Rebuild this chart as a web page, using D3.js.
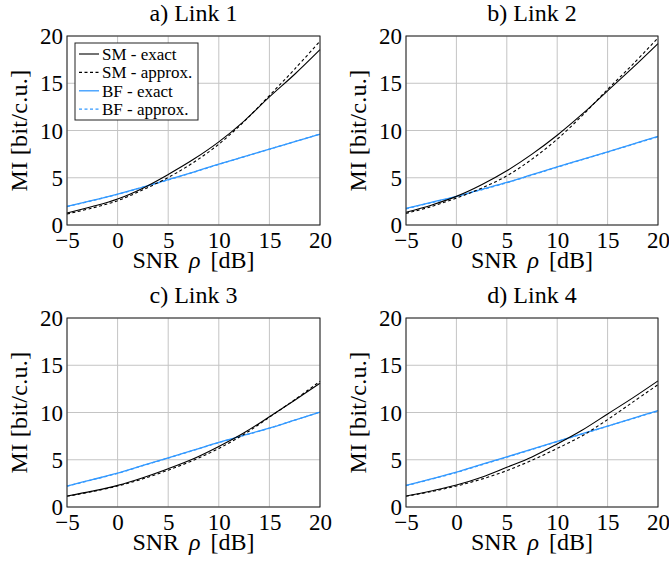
<!DOCTYPE html>
<html>
<head>
<meta charset="utf-8">
<script src="https://cdn.jsdelivr.net/npm/d3@7"></script>
<style>
html,body{margin:0;padding:0;background:#fff;}
svg{display:block;}
</style>
</head>
<body>
<svg id="chart" width="669" height="562"></svg>
<script>
// ---- data ----
const snr = [-5, -2.5, 0, 2.5, 5, 7.5, 10, 12.5, 15, 17.5, 20];
const xTicks = [-5, 0, 5, 10, 15, 20];
const yTicks = [0, 5, 10, 15, 20];
const panelTitles = ["a) Link 1", "b) Link 2", "c) Link 3", "d) Link 4"];
const seriesNames = ["SM - exact", "SM - approx.", "BF - exact", "BF - approx."];
const xLabelParts = ["SNR", "\u03C1", "[dB]"];
const yLabel = "MI [bit/c.u.]";

const link1SmExact  = [1.27, 1.95, 2.75, 3.9, 5.35, 6.95, 8.8, 11.0, 13.55, 15.95, 18.55];
const link1SmApprox = [1.16, 1.8, 2.57, 3.72, 5.03, 6.62, 8.55, 10.95, 13.7, 16.5, 19.45];
const link1BfExact  = [1.97, 2.6, 3.27, 4.02, 4.79, 5.6, 6.44, 7.23, 8.03, 8.82, 9.61];
const link1BfApprox = [1.95, 2.58, 3.25, 4.0, 4.77, 5.58, 6.42, 7.22, 8.02, 8.82, 9.62];

const link2SmExact  = [1.34, 2.1, 3.03, 4.26, 5.74, 7.5, 9.5, 11.75, 14.2, 16.65, 19.2];
const link2SmApprox = [1.23, 1.95, 2.85, 3.9, 5.2, 6.97, 9.08, 11.6, 14.35, 17.0, 19.8];
const link2BfExact  = [1.76, 2.4, 3.03, 3.77, 4.5, 5.33, 6.16, 6.95, 7.75, 8.56, 9.37];
const link2BfApprox = [1.72, 2.36, 3.0, 3.73, 4.47, 5.29, 6.12, 6.92, 7.72, 8.53, 9.34];

const link3SmExact  = [1.16, 1.68, 2.29, 3.1, 4.05, 5.1, 6.4, 7.85, 9.55, 11.3, 13.1];
const link3SmApprox = [1.13, 1.63, 2.22, 2.98, 3.9, 4.95, 6.2, 7.7, 9.5, 11.35, 13.3];
const link3BfExact  = [2.22, 2.9, 3.58, 4.4, 5.2, 6.02, 6.84, 7.6, 8.35, 9.2, 10.05];
const link3BfApprox = [2.2, 2.88, 3.56, 4.38, 5.18, 6.0, 6.82, 7.58, 8.34, 9.19, 10.04];

const link4SmExact  = [1.16, 1.7, 2.32, 3.15, 4.2, 5.3, 6.67, 8.15, 9.85, 11.55, 13.35];
const link4SmApprox = [1.13, 1.63, 2.22, 2.95, 3.85, 4.95, 6.2, 7.55, 9.25, 11.1, 12.95];
const link4BfExact  = [2.29, 2.97, 3.68, 4.5, 5.3, 6.12, 6.95, 7.76, 8.57, 9.38, 10.19];
const link4BfApprox = [2.26, 2.94, 3.65, 4.47, 5.27, 6.09, 6.92, 7.73, 8.55, 9.36, 10.17];

const links = [
  [link1SmExact, link1SmApprox, link1BfExact, link1BfApprox],
  [link2SmExact, link2SmApprox, link2BfExact, link2BfApprox],
  [link3SmExact, link3SmApprox, link3BfExact, link3BfApprox],
  [link4SmExact, link4SmApprox, link4BfExact, link4BfApprox]
];

// ---- styles ----
const FONT = "'Liberation Serif', 'Tinos', 'Times New Roman', Times, 'DejaVu Serif', serif";
const BLUE = "#3399ff";
const seriesStyle = [
  {color: "#000", dash: null, width: 1.1},
  {color: "#000", dash: "3,2.5", width: 1.1},
  {color: BLUE, dash: null, width: 1.3},
  {color: BLUE, dash: "3,2.5", width: 1.3}
];

const panels = [
  {left: 67, top: 36, w: 253, h: 189},
  {left: 406, top: 36, w: 252, h: 189},
  {left: 67, top: 318, w: 253, h: 189},
  {left: 406, top: 318, w: 252, h: 189}
];

const svg = d3.select("#chart");

panels.forEach((p, i) => {
  const g = svg.append("g").attr("transform", `translate(${p.left},${p.top})`);
  const x = d3.scaleLinear().domain([-5, 20]).range([0, p.w]);
  const y = d3.scaleLinear().domain([0, 20]).range([p.h, 0]);

  // grid
  g.append("g").selectAll("line").data(xTicks).join("line")
    .attr("x1", d => x(d)).attr("x2", d => x(d)).attr("y1", 0).attr("y2", p.h)
    .attr("stroke", "#c4c4c4").attr("stroke-width", 1);
  g.append("g").selectAll("line").data(yTicks).join("line")
    .attr("x1", 0).attr("x2", p.w).attr("y1", d => y(d)).attr("y2", d => y(d))
    .attr("stroke", "#c4c4c4").attr("stroke-width", 1);

  // axes via d3 (labels only)
  const fmt = d => (d < 0 ? "\u2212" + Math.abs(d) : String(d));
  const xAxis = g.append("g").attr("transform", `translate(0,${p.h})`)
    .call(d3.axisBottom(x).tickValues(xTicks).tickFormat(fmt).tickSize(0).tickPadding(7));
  const yAxis = g.append("g")
    .call(d3.axisLeft(y).tickValues(yTicks).tickFormat(fmt).tickSize(0).tickPadding(4));
  [xAxis, yAxis].forEach(a => {
    a.attr("font-family", null).attr("font-size", null);
    a.select(".domain").remove();
    a.selectAll("text").style("font-size", "23px").style("font-family", FONT).attr("fill", "#000");
  });
  xAxis.selectAll("text").attr("dy", "0.68em");
  yAxis.selectAll("text").attr("dy", "0.33em");

  // lines
  const line = d3.line().x((d, k) => x(snr[k])).y(d => y(d)).curve(d3.curveCatmullRom.alpha(0.5));
  const order = [2, 3, 0, 1];
  order.forEach(s => {
    const st = seriesStyle[s];
    g.append("path").datum(links[i][s])
      .attr("d", line)
      .attr("fill", "none")
      .attr("stroke", st.color)
      .attr("stroke-width", st.width)
      .attr("stroke-dasharray", st.dash);
  });

  // frame
  g.append("rect").attr("x", 0).attr("y", 0).attr("width", p.w).attr("height", p.h)
    .attr("fill", "none").attr("stroke", "#222").attr("stroke-width", 1);

  // title
  g.append("text").attr("x", p.w / 2).attr("y", -15).attr("text-anchor", "middle")
    .style("font-family", FONT).style("font-size", "24px").text(panelTitles[i]);

  // x label: three pieces laid out from measured widths
  const gap = 10;
  const pieces = xLabelParts.map((t, k) => g.append("text")
    .attr("y", p.h + 43)
    .style("font-family", FONT).style("font-size", "24px")
    .style("font-style", k === 1 ? "italic" : "normal")
    .text(t));
  const widths = pieces.map(t => t.node().getComputedTextLength());
  const total = d3.sum(widths) + gap * (pieces.length - 1);
  let cx = p.w / 2 - total / 2;
  pieces.forEach((t, k) => { t.attr("x", cx); cx += widths[k] + gap; });

  // y label
  g.append("text").attr("transform", `translate(-40,${p.h / 2}) rotate(-90)`)
    .attr("text-anchor", "middle").style("font-family", FONT).style("font-size", "24px")
    .style("letter-spacing", "0.3px")
    .text(yLabel);

  // legend (first panel only)
  if (i === 0) {
    const lg = g.append("g").attr("transform", "translate(8,7)");
    lg.append("rect").attr("x", 0).attr("y", 0).attr("width", 123).attr("height", 77)
      .attr("fill", "#fff").attr("stroke", "#222").attr("stroke-width", 1);
    seriesNames.forEach((name, k) => {
      const cy = 11 + k * 18.4;
      const st = seriesStyle[k];
      lg.append("line").attr("x1", 4).attr("x2", 24).attr("y1", cy).attr("y2", cy)
        .attr("stroke", st.color).attr("stroke-width", st.width).attr("stroke-dasharray", st.dash);
      lg.append("text").attr("x", 27).attr("y", cy).attr("dy", "0.35em")
        .style("font-family", FONT).style("font-size", "17px").text(name);
    });
  }
});
</script>
</body>
</html>
